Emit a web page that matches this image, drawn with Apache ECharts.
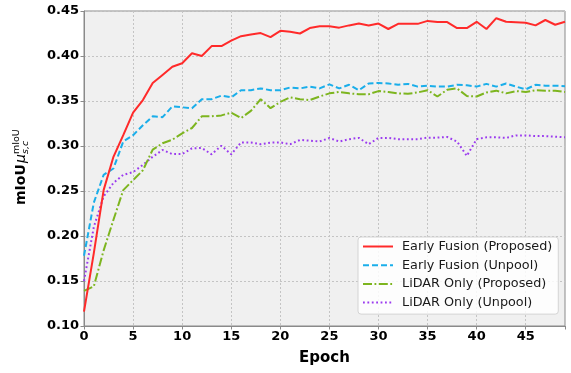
<!DOCTYPE html>
<html>
<head>
<meta charset="utf-8">
<script src="https://cdn.jsdelivr.net/npm/echarts@6/dist/echarts.min.js"></script>
<style>
html,body{margin:0;padding:0;background:#fff;}
#chart{width:571px;height:373px;}
</style>
</head>
<body>
<div id="chart"></div>
<script>
const epochs = [0,1,2,3,4,5,6,7,8,9,10,11,12,13,14,15,16,17,18,19,20,21,22,23,24,25,26,27,28,29,30,31,32,33,34,35,36,37,38,39,40,41,42,43,44,45,46,47,48,49];
const seriesNames = ['Early Fusion (Proposed)','Early Fusion (Unpool)','LiDAR Only (Proposed)','LiDAR Only (Unpool)'];
const earlyFusionProposed = [0.116,0.181,0.251,0.288,0.312,0.337,0.351,0.370,0.379,0.388,
  0.392,0.403,0.400,0.411,0.411,0.417,0.422,0.424,0.4255,0.421,
  0.428,0.427,0.425,0.431,0.433,0.433,0.4315,0.434,0.436,0.434,
  0.436,0.430,0.4357,0.4357,0.4357,0.439,0.4377,0.4377,0.431,0.431,
  0.438,0.430,0.442,0.438,0.4375,0.437,0.434,0.440,0.4347,0.438];
const earlyFusionUnpool = [0.178,0.237,0.268,0.275,0.305,0.312,0.323,0.333,0.332,0.344,
  0.343,0.342,0.352,0.352,0.356,0.354,0.362,0.362,0.364,0.362,
  0.362,0.365,0.364,0.366,0.364,0.3685,0.364,0.368,0.362,0.3695,
  0.370,0.3695,0.368,0.369,0.366,0.367,0.366,0.366,0.368,0.3675,
  0.366,0.369,0.366,0.3695,0.366,0.363,0.368,0.367,0.367,0.3665];
const lidarProposed = [0.139,0.144,0.184,0.218,0.251,0.262,0.273,0.296,0.303,0.307,
  0.314,0.320,0.333,0.333,0.334,0.337,0.331,0.339,0.352,0.342,
  0.349,0.354,0.352,0.351,0.355,0.3585,0.360,0.3585,0.3575,0.3575,
  0.361,0.360,0.3585,0.358,0.3595,0.362,0.355,0.3625,0.364,0.3555,
  0.355,0.3595,0.3615,0.3585,0.361,0.360,0.362,0.3615,0.3615,0.360];
const lidarUnpool = [0.150,0.210,0.244,0.259,0.268,0.271,0.279,0.288,0.2956,0.291,
  0.291,0.2974,0.2978,0.2907,0.3004,0.2907,0.304,0.304,0.302,0.3037,
  0.304,0.302,0.3067,0.306,0.305,0.3089,0.305,0.3076,0.309,0.302,
  0.309,0.309,0.3076,0.3076,0.3076,0.3093,0.3093,0.310,0.305,0.289,
  0.3076,0.3096,0.3096,0.309,0.3118,0.3118,0.311,0.311,0.3104,0.3096];
const xTickLabels = [0,5,10,15,20,25,30,35,40,45];
const yTickLabels = ['0.10','0.15','0.20','0.25','0.30','0.35','0.40','0.45'];

const values = [earlyFusionProposed, earlyFusionUnpool, lidarProposed, lidarUnpool];
const colors = ['#ff2a2a','#1aaeea','#7db51f','#9b3bef'];
const dashes = ['solid',[6,3],[9,2.5,1.8,2.5],[1.8,2.6]];

const chart = echarts.init(document.getElementById('chart'), null, {renderer:'canvas'});
const FONT = 'DejaVu Sans';
const option = {
  animation:false,
  backgroundColor:'#ffffff',
  textStyle:{fontFamily:FONT},
  grid:{left:84, right:6, top:11, bottom:47, show:true, backgroundColor:'#f0f0f0', borderColor:'#8a8a8a', borderWidth:1},
  xAxis:{type:'value', min:0, max:49, interval:5,
    axisLine:{show:true, lineStyle:{color:'#8a8a8a', width:1}},
    axisTick:{show:true, length:3.5, lineStyle:{color:'#8a8a8a'}},
    axisLabel:{color:'#000', fontWeight:'bold', fontSize:13, fontFamily:FONT, margin:4,
      formatter:function(v){return xTickLabels.indexOf(v)>=0 ? String(v) : '';}},
    splitLine:{show:true, lineStyle:{color:'#c4c4c4', type:[2,2], width:1}}
  },
  yAxis:{type:'value', min:0.10, max:0.45, interval:0.05,
    axisLine:{show:true, lineStyle:{color:'#8a8a8a', width:1}},
    axisTick:{show:true, length:3.5, lineStyle:{color:'#8a8a8a'}},
    axisLabel:{color:'#000', fontWeight:'bold', fontSize:13, fontFamily:FONT, margin:5,
      formatter:function(v){const s=v.toFixed(2); return yTickLabels.indexOf(s)>=0 ? s : '';}},
    splitLine:{show:true, lineStyle:{color:'#c4c4c4', type:[2,2], width:1}}
  },
  legend:{
    orient:'vertical', left:358, top:237,
    padding:[3,6,5,4], itemWidth:30, itemHeight:14, itemGap:5.7,
    backgroundColor:'rgba(255,255,255,0.85)', borderColor:'#d4d4d4', borderWidth:1, borderRadius:3,
    itemStyle:{opacity:0},
    textStyle:{fontSize:12.8, fontFamily:FONT, color:'#1a1a1a', padding:[0,0,0,4]},
    data:seriesNames
  },
  series: seriesNames.map(function(name,i){
    return {
      name:name, type:'line', symbol:'none', smooth:false,
      data: epochs.map(function(e,j){return [e, values[i][j]];}),
      lineStyle:{color:colors[i], width:2, type:dashes[i], cap:'butt'},
      itemStyle:{color:colors[i]},
      z: 10 - i
    };
  }),
  graphic:[
    {type:'text', x:324.5, y:358, style:{text:'Epoch', font:'bold 15px "DejaVu Sans"', fill:'#000', align:'center', verticalAlign:'middle'}},
    {type:'group', x:26, y:205, rotation:Math.PI/2, children:[
      {type:'text', x:0, y:-4.8, style:{text:'mIoU', font:'bold 14px "DejaVu Sans"', fill:'#000', align:'left', verticalAlign:'middle'}},
      {type:'text', x:42, y:-4.8, style:{text:'μ', font:'italic 14px "DejaVu Sans"', fill:'#000', align:'left', verticalAlign:'middle'}},
      {type:'text', x:51, y:-0.8, style:{text:'s,c', font:'italic 9.5px "DejaVu Sans"', fill:'#000', align:'left', verticalAlign:'middle'}},
      {type:'text', x:51, y:-9.8, style:{text:'mIoU', font:'9.5px "DejaVu Sans"', fill:'#000', align:'left', verticalAlign:'middle'}}
    ]}
  ]
};
chart.setOption(option);
</script>
</body>
</html>
